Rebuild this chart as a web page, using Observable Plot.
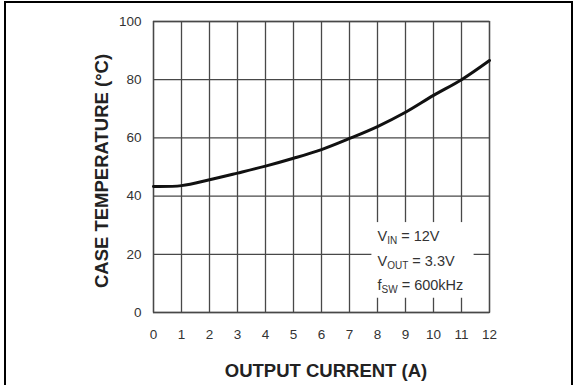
<!DOCTYPE html>
<html>
<head>
<meta charset="utf-8">
<script src="https://cdn.jsdelivr.net/npm/d3@7"></script>
<script src="https://cdn.jsdelivr.net/npm/@observablehq/plot@0.6"></script>
<style>
  html, body { margin: 0; padding: 0; background: #fff; }
  #wrap { position: relative; width: 573px; height: 385px; overflow: hidden; background: #fff; }
  #wrap svg { position: absolute; left: 0; top: 0; }
  .bord { position: absolute; background: #000; }
</style>
</head>
<body>
<div id="wrap">
  <div class="bord" style="left:4px;top:1px;width:2px;height:384px"></div>
  <div class="bord" style="left:4px;top:1px;width:569px;height:2px"></div>
  <div class="bord" style="left:571px;top:1px;width:2px;height:384px"></div>
</div>
<script>
// Data
const current = [0, 1, 2, 3, 4, 5, 6, 7, 8, 9, 10, 11, 12];
const temperature = [43.3, 43.6, 45.6, 47.9, 50.3, 53.0, 56.0, 59.8, 63.9, 68.8, 74.6, 80.0, 86.6];
const xTicks = [0, 1, 2, 3, 4, 5, 6, 7, 8, 9, 10, 11, 12];
const yTicks = [0, 20, 40, 60, 80, 100];
const xTitle = "OUTPUT CURRENT (A)";
const yTitle = "CASE TEMPERATURE (°C)";
const noteMain = ["V", "V", "f"];
const noteSub = ["IN", "OUT", "SW"];
const noteRest = [" = 12V", " = 3.3V", " = 600kHz"];
const noteY = [26.1, 17.5, 9.3];
const noteX = 8;
const noteBox = {x1: 7.8, x2: 11.45, y1: 4.9, y2: 30.9};

const data = current.map((c, i) => ({current: c, temperature: temperature[i]}));
const notes = noteMain.map((m, i) => ({main: m, sub: noteSub[i], rest: noteRest[i], y: noteY[i]}));

const gridStyle = {stroke: "#484848", strokeOpacity: 1, strokeWidth: 1.3};

const chart = Plot.plot({
  width: 573,
  height: 385,
  marginLeft: 153,
  marginRight: 84,
  marginTop: 21,
  marginBottom: 73,
  style: {fontFamily: "'Liberation Sans', Arial, sans-serif", background: "transparent", color: "#333"},
  x: {domain: [0, 12]},
  y: {domain: [0, 100]},
  marks: [
    Plot.gridX(xTicks, gridStyle),
    Plot.gridY(yTicks, gridStyle),
    Plot.rect([noteBox], {x1: "x1", x2: "x2", y1: "y1", y2: "y2", fill: "white"}),
    Plot.frame({stroke: "#484848", strokeWidth: 1.3}),
    Plot.axisX(xTicks, {tickSize: 0, tickPadding: 17, fontSize: 13.5, fill: "#333", label: null, tickFormat: d => String(d)}),
    Plot.axisY(yTicks, {tickSize: 0, tickPadding: 12, fontSize: 13.5, fill: "#333", label: null, tickFormat: d => String(d)}),
    Plot.line(data, {x: "current", y: "temperature", curve: "catmull-rom", stroke: "#111", strokeWidth: 3}),
    Plot.text(notes, {x: () => noteX, y: "y", text: d => d.main + d.sub + d.rest, textAnchor: "start", lineAnchor: "middle", fontSize: 14.5, fill: "#333"}),
    Plot.text([xTitle], {frameAnchor: "bottom", textAnchor: "middle", dy: 59, dx: 4.5, lineAnchor: "middle", fontSize: 18.5, fontWeight: "bold", fill: "#222"}),
    Plot.text([yTitle], {frameAnchor: "left", textAnchor: "middle", rotate: -90, dx: -51.5, dy: 4, lineAnchor: "middle", fontSize: 18.5, fontWeight: "bold", fill: "#222"})
  ]
});

// Rebuild annotation texts with subscripts (still real text)
const full = notes.map(n => n.main + n.sub + n.rest);
chart.querySelectorAll("text").forEach(t => {
  const idx = full.indexOf(t.textContent);
  if (idx < 0) return;
  const n = notes[idx];
  while (t.firstChild) t.removeChild(t.firstChild);
  const ns = "http://www.w3.org/2000/svg";
  const a = document.createElementNS(ns, "tspan"); a.textContent = n.main;
  const b = document.createElementNS(ns, "tspan"); b.textContent = n.sub;
  b.setAttribute("font-size", "10"); b.setAttribute("dy", "3");
  const c = document.createElementNS(ns, "tspan"); c.textContent = n.rest;
  c.setAttribute("dy", "-3");
  t.appendChild(a); t.appendChild(b); t.appendChild(c);
});

document.getElementById("wrap").appendChild(chart);
</script>
</body>
</html>
